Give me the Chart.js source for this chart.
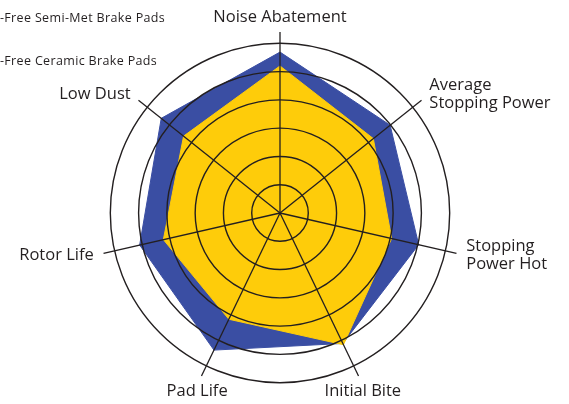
<!DOCTYPE html>
<html>
<head>
<meta charset="utf-8">
<script src="https://cdn.jsdelivr.net/npm/chart.js@4.4.1/dist/chart.umd.min.js"></script>
<style>
  html, body { margin: 0; padding: 0; background: #fff; overflow: hidden; }
  #wrap { position: relative; width: 569px; height: 404px; }
  #chart { position: absolute; left: 0; top: 0; }
  #legend { position: absolute; left: -75px; top: 0; font: 12.5px "Open Sans", sans-serif; letter-spacing: 0.35px; color: #231f20; }
  #legend .item { position: absolute; left: 0; white-space: nowrap; display: flex; align-items: center; height: 14px; }
  #legend .swatch { display: inline-block; width: 24px; height: 12px; margin-right: 6px; }
</style>
</head>
<body>
<div id="wrap">
  <canvas id="chart" width="569" height="404"></canvas>
  <div id="legend"></div>
</div>
<script>
// axes, clockwise from the top
const axisLabels = [
  "Noise Abatement",
  ["Average", "Stopping Power"],
  ["Stopping", "Power Hot"],
  "Initial Bite",
  "Pad Life",
  "Rotor Life",
  "Low Dust"
];
const semiMetValues = [5.69, 4.98, 5.03, 5.12, 5.38, 5.09, 5.37];
const ceramicValues = [5.2, 4.22, 4.05, 5.17, 4.17, 4.23, 4.36];
const seriesNames = ["Copper-Free Semi-Met Brake Pads", "Copper-Free Ceramic Brake Pads"];
const ringTicks = [0, 1, 2, 3, 4, 5, 6];
const scaleMax = 6.4;

const BLUE = "#3a4ea3";
const YELLOW = "#fecc0a";
const INK = "#231f20";

// axis names drawn just past the end of each spoke
const axisLabelPlugin = {
  id: "axisLabels",
  afterDraw(chart) {
    const scale = chart.scales.r;
    const ctx = chart.ctx;
    const lineH = 18;
    ctx.save();
    ctx.font = '16.5px "Open Sans", sans-serif';
    ctx.fillStyle = INK;
    axisLabels.forEach((label, i) => {
      const lines = [].concat(label);
      const deg = scale.getIndexAngle(i) * 180 / Math.PI;
      const p = scale.getPointPosition(i, scale.drawingArea + 10);
      if (deg < 1) {
        ctx.textAlign = "center";
        ctx.textBaseline = "alphabetic";
        lines.forEach((t, k) => ctx.fillText(t, p.x, p.y - (lines.length - 1 - k) * lineH));
      } else if (deg > 135 && deg < 225) {
        ctx.textAlign = "center";
        ctx.textBaseline = "top";
        lines.forEach((t, k) => ctx.fillText(t, p.x, p.y - 2 + k * lineH));
      } else {
        ctx.textAlign = deg < 180 ? "left" : "right";
        ctx.textBaseline = "middle";
        lines.forEach((t, k) => ctx.fillText(t, p.x, p.y + (k - (lines.length - 1) / 2) * lineH));
      }
    });
    ctx.restore();
  }
};

new Chart(document.getElementById("chart"), {
  type: "radar",
  data: {
    labels: axisLabels,
    datasets: [
      {
        label: seriesNames[1],
        data: ceramicValues,
        backgroundColor: YELLOW,
        borderColor: YELLOW,
        borderWidth: 1,
        pointRadius: 0,
        fill: true
      },
      {
        label: seriesNames[0],
        data: semiMetValues,
        backgroundColor: BLUE,
        borderColor: BLUE,
        borderWidth: 1,
        pointRadius: 0,
        fill: true
      }
    ]
  },
  options: {
    responsive: false,
    animation: false,
    layout: { padding: { left: 99, right: 108, top: 32, bottom: 10 } },
    plugins: {
      legend: { display: false },
      tooltip: { enabled: false }
    },
    scales: {
      r: {
        min: 0,
        max: scaleMax,
        afterBuildTicks: (scale) => {
          scale.ticks = ringTicks.map((value) => ({ value }));
        },
        ticks: { display: false },
        // rings and spokes go over the filled areas
        grid: { circular: true, color: INK, lineWidth: 1.4, z: 1 },
        angleLines: { color: INK, lineWidth: 1.3 },
        pointLabels: { display: false }
      }
    }
  },
  plugins: [axisLabelPlugin]
});

// legend sits half off the left edge, like the source crop
const legend = document.getElementById("legend");
[BLUE, YELLOW].forEach((color, i) => {
  const item = document.createElement("div");
  item.className = "item";
  item.style.top = (10 + i * 43) + "px";
  item.innerHTML = `<span class="swatch" style="background:${color}"></span>${seriesNames[i]}`;
  legend.appendChild(item);
});
</script>
</body>
</html>
